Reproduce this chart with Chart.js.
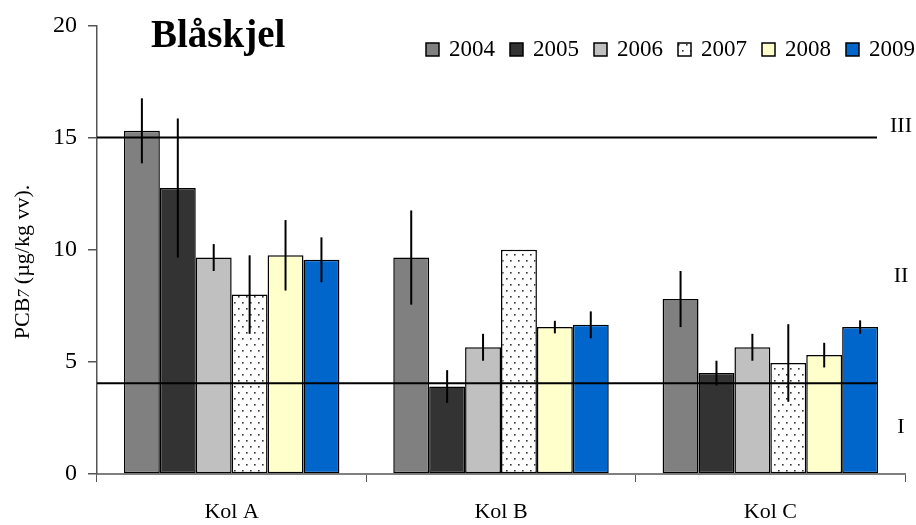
<!DOCTYPE html>
<html>
<head>
<meta charset="utf-8">
<script src="https://cdn.jsdelivr.net/npm/chart.js@4.4.0/dist/chart.umd.min.js"></script>
<style>
    html, body { margin: 0; padding: 0; background: #fff; }
</style>
</head>
<body>
<canvas id="blaskjelChart" width="916" height="525"></canvas>
<script>
// Stasjoner og år
const stasjoner = ['Kol A', 'Kol B', 'Kol C'];
const aar = ['2004', '2005', '2006', '2007', '2008', '2009'];

// PCB7 middelverdier per år (Kol A, Kol B, Kol C)
const pcb2004 = [15.3, 9.65, 7.8];
const pcb2005 = [12.75, 3.9, 4.5];
const pcb2006 = [9.65, 5.65, 5.65];
const pcb2007 = [8.0, 10.0, 4.95];
const pcb2008 = [9.75, 6.55, 5.3];
const pcb2009 = [9.55, 6.65, 6.55];

// standardavvik (feilstolper)
const sd2004 = [1.45, 2.1, 1.25];
const sd2005 = [3.1, 0.73, 0.55];
const sd2006 = [0.6, 0.6, 0.6];
const sd2007 = [1.75, 0, 1.73];
const sd2008 = [1.57, 0.28, 0.55];
const sd2009 = [1.0, 0.6, 0.3];

// klassegrenser og tilstandsklasser
const grenser = [15, 4.05];
const klasser = ['III', 'II', 'I'];
const klasseNivaa = [15.5, 8.8, 2.1];

const yTicks = [0, 5, 10, 15, 20];

const serif = '"Liberation Serif", "Times New Roman", serif';

// prikkmønster for 2007
function lagPrikker() {
    const c = document.createElement('canvas');
    c.width = 8; c.height = 12;
    const g = c.getContext('2d');
    g.fillStyle = '#fff';
    g.fillRect(0, 0, 8, 12);
    g.fillStyle = '#333';
    g.fillRect(2, 2, 1.6, 1.6);
    g.fillRect(6, 8, 1.6, 1.6);
    return g.createPattern(c, 'repeat');
}
const ctx = document.getElementById('blaskjelChart').getContext('2d');
const prikker = lagPrikker();

const verdier = [pcb2004, pcb2005, pcb2006, pcb2007, pcb2008, pcb2009];
const avvik = [sd2004, sd2005, sd2006, sd2007, sd2008, sd2009];
const farger = ['#808080', '#333333', '#c0c0c0', prikker, '#ffffcc', '#0066cc'];

const datasets = aar.map((a, i) => ({
    label: a,
    data: verdier[i],
    sd: avvik[i],
    backgroundColor: farger[i],
    borderColor: '#000',
    borderWidth: 1.5,
    borderSkipped: false,
    categoryPercentage: 0.8,
    barPercentage: 1.0
}));

// feilstolper, klasselinjer, tekst og forklaring
const ekstra = {
    id: 'ekstra',
    afterDatasetsDraw(chart) {
        const c = chart.ctx;
        const y = chart.scales.y;
        const area = chart.chartArea;
        c.save();
        // feilstolper
        c.strokeStyle = '#000';
        c.lineWidth = 2;
        chart.data.datasets.forEach((ds, i) => {
            const meta = chart.getDatasetMeta(i);
            meta.data.forEach((bar, j) => {
                const sd = ds.sd[j];
                if (!sd) return;
                c.beginPath();
                c.moveTo(bar.x, y.getPixelForValue(ds.data[j] + sd));
                c.lineTo(bar.x, y.getPixelForValue(ds.data[j] - sd));
                c.stroke();
            });
        });
        // klassegrenser
        c.lineWidth = 2;
        grenser.forEach(g => {
            const py = y.getPixelForValue(g);
            c.beginPath();
            c.moveTo(area.left, py);
            c.lineTo(area.right - 28, py);
            c.stroke();
        });
        // klassetekst
        c.fillStyle = '#000';
        c.font = '22px ' + serif;
        c.textAlign = 'center';
        c.textBaseline = 'middle';
        klasser.forEach((k, i) => {
            c.fillText(k, area.right - 4, y.getPixelForValue(klasseNivaa[i]));
        });
        // tittel
        c.textAlign = 'left';
        c.textBaseline = 'alphabetic';
        c.font = 'bold 39px ' + serif;
        c.fillText('Blåskjel', 151, 47);
        // forklaring
        c.font = '23px ' + serif;
        c.textBaseline = 'middle';
        chart.data.datasets.forEach((ds, i) => {
            const x0 = 426 + i * 84;
            c.fillStyle = ds.backgroundColor;
            c.fillRect(x0, 43, 13, 13);
            c.strokeStyle = '#000';
            c.lineWidth = 1.5;
            c.strokeRect(x0, 43, 13, 13);
            c.fillStyle = '#000';
            c.fillText(ds.label, x0 + 23, 50);
        });
        // y-aksetittel
        c.translate(23, 262);
        c.rotate(-Math.PI / 2);
        c.textAlign = 'left';
        c.textBaseline = 'middle';
        const del1 = 'PCB';
        const del2 = '7';
        const del3 = ' (µg/kg vv).';
        c.font = '22px ' + serif;
        const w1 = c.measureText(del1).width;
        const w3 = c.measureText(del3).width;
        c.font = 'italic 16px ' + serif;
        const w2 = c.measureText(del2).width;
        const start = -(w1 + w2 + w3) / 2;
        c.font = '22px ' + serif;
        c.fillText(del1, start, 0);
        c.font = 'italic 16px ' + serif;
        c.fillText(del2, start + w1, 2);
        c.font = '22px ' + serif;
        c.fillText(del3, start + w1 + w2, 0);
        c.restore();
    }
};

new Chart(ctx, {
    type: 'bar',
    data: {
        labels: stasjoner,
        datasets: datasets
    },
    options: {
        responsive: false,
        animation: false,
        devicePixelRatio: 1,
        layout: { padding: { left: 0, right: 11, top: 22, bottom: 0 } },
        plugins: {
            legend: { display: false },
            tooltip: { enabled: false }
        },
        scales: {
            x: {
                afterFit: s => { s.height = 51; },
                grid: {
                    offset: true,
                    drawOnChartArea: false,
                    tickLength: 8,
                    color: '#555',
                    lineWidth: 1
                },
                border: { color: '#808080', width: 2 },
                ticks: {
                    color: '#000',
                    padding: 17,
                    font: { family: serif, size: 22 }
                }
            },
            y: {
                min: 0,
                max: 20,
                afterFit: s => { s.width = 97; },
                afterBuildTicks: s => { s.ticks = yTicks.map(v => ({ value: v })); },
                grid: {
                    drawOnChartArea: false,
                    tickLength: 9,
                    color: '#555',
                    lineWidth: 1.5
                },
                border: { color: '#555', width: 1.5 },
                ticks: {
                    color: '#000',
                    padding: 11,
                    font: { family: serif, size: 24 }
                }
            }
        }
    },
    plugins: [ekstra]
});
</script>
</body>
</html>
